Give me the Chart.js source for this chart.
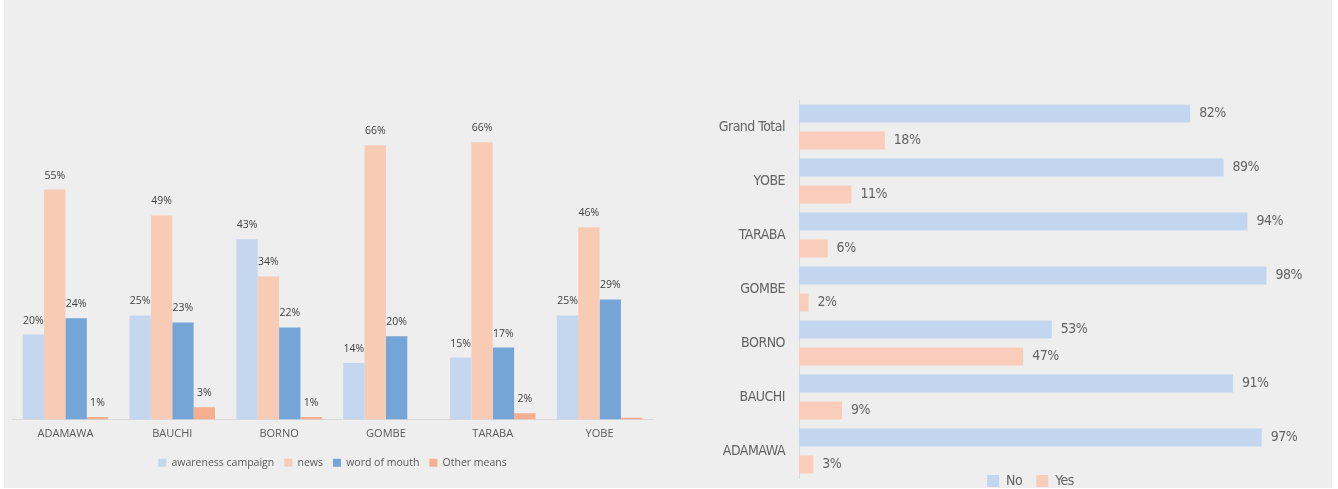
<!DOCTYPE html>
<html>
<head>
<meta charset="utf-8">
<script src="https://cdn.jsdelivr.net/npm/chart.js@4.4.0/dist/chart.umd.min.js"></script>
<style>
    html, body { margin: 0; padding: 0; background: #ffffff; overflow: hidden; }
    #wrap { position: relative; width: 1338px; height: 489px; overflow: hidden; }
    #panel { position: absolute; left: 4px; top: 0; width: 1328px; height: 488px; background: #eeeeee; }
    #meansChart { position: absolute; left: 0; top: 0; }
    #answerChart { position: absolute; left: 690px; top: 0; }
</style>
</head>
<body>
<div id="wrap">
    <div id="panel"></div>
    <canvas id="meansChart" width="670" height="488"></canvas>
    <canvas id="answerChart" width="642" height="516"></canvas>
</div>
<script>
// left chart - how people heard about it, by state (percent)
var regions = ["ADAMAWA", "BAUCHI", "BORNO", "GOMBE", "TARABA", "YOBE"];
var awareness = [20.3, 24.9, 43.1, 13.5, 14.8, 24.9];
var news = [55.0, 48.8, 34.2, 65.6, 66.3, 46.0];
var wordOfMouth = [24.2, 23.2, 22.0, 19.9, 17.2, 28.7];
var otherMeans = [0.6, 2.9, 0.6, 0, 1.5, 0.4];

// right chart - No / Yes share (percent)
var states = ["Grand Total", "YOBE", "TARABA", "GOMBE", "BORNO", "BAUCHI", "ADAMAWA"];
var noShare = [82, 89, 94, 98, 53, 91, 97];
var yesShare = [18, 11, 6, 2, 47, 9, 3];

var narrowFont = "'Liberation Sans Narrow', 'DejaVu Sans Condensed', sans-serif";

// writes the % value next to each bar
var valueLabels = {
    id: "valueLabels",
    afterDatasetsDraw: function(chart, args, opts) {
        var ctx = chart.ctx;
        ctx.save();
        ctx.font = opts.font;
        ctx.fillStyle = opts.color;
        chart.data.datasets.forEach(function(ds, i) {
            var meta = chart.getDatasetMeta(i);
            meta.data.forEach(function(bar, j) {
                var v = Math.round(ds.data[j]);
                if (v === 0) return;
                if (opts.horizontal) {
                    ctx.textAlign = "left";
                    ctx.textBaseline = "middle";
                    ctx.fillText(v + "%", bar.x + opts.offset, bar.y);
                } else {
                    ctx.textAlign = "center";
                    ctx.textBaseline = "middle";
                    ctx.fillText(v + "%", bar.x, bar.y - opts.offset);
                }
            });
        });
        ctx.restore();
    }
};

// nudge the legend box after layout
var legendShift = {
    id: "legendShift",
    afterLayout: function(chart, args, opts) {
        if (!chart.legend) return;
        chart.legend.top += opts.dy || 0;
        chart.legend.bottom += opts.dy || 0;
        chart.legend.left += opts.dx || 0;
        chart.legend.right += opts.dx || 0;
    }
};

// tighter letters (no narrow font installed)
var tightText = {
    id: "tightText",
    beforeLayout: function(chart, args, opts) {
        if (opts.spacing) chart.ctx.letterSpacing = opts.spacing;
    },
    beforeDraw: function(chart, args, opts) {
        if (opts.spacing) chart.ctx.letterSpacing = opts.spacing;
    }
};

var meansCtx = document.getElementById("meansChart").getContext("2d");
var meansChart = new Chart(meansCtx, {
    type: "bar",
    data: {
        labels: regions,
        datasets: [
            { label: "awareness campaign", data: awareness, backgroundColor: "#c4d7ef" },
            { label: "news", data: news, backgroundColor: "#f8cbb5" },
            { label: "word of mouth", data: wordOfMouth, backgroundColor: "#75a4d6" },
            { label: "Other means", data: otherMeans, backgroundColor: "#f6ae8f" }
        ]
    },
    options: {
        responsive: false,
        animation: false,
        devicePixelRatio: 1,
        layout: { padding: { left: 12, right: 17, top: 85, bottom: 10 } },
        datasets: { bar: { barPercentage: 1, categoryPercentage: 0.8 } },
        scales: {
            x: {
                grid: { display: false, drawTicks: false },
                border: { display: true, color: "#d9d9d9", width: 1 },
                ticks: { color: "#595959", padding: 8, font: { family: "'Open Sans', sans-serif", size: 11 } },
                afterFit: function(scale) { scale.height = 28; }
            },
            y: { display: false, min: 0, max: 80 }
        },
        plugins: {
            legend: {
                position: "bottom",
                labels: {
                    boxWidth: 8,
                    boxHeight: 8,
                    padding: 10,
                    color: "#595959",
                    font: { family: "'Open Sans', sans-serif", size: 10.5 }
                }
            },
            tooltip: { enabled: false },
            valueLabels: { font: "10.5px 'Open Sans', sans-serif", color: "#404040", offset: 14, horizontal: false },
            legendShift: { dx: 0, dy: 0 },
            tightText: { spacing: "" }
        }
    },
    plugins: [valueLabels, legendShift, tightText]
});

var answerCtx = document.getElementById("answerChart").getContext("2d");
var answerChart = new Chart(answerCtx, {
    type: "bar",
    data: {
        labels: states,
        datasets: [
            { label: "No", data: noShare, backgroundColor: "#c3d6ef" },
            { label: "Yes", data: yesShare, backgroundColor: "#f9cdb9" }
        ]
    },
    options: {
        indexAxis: "y",
        responsive: false,
        animation: false,
        devicePixelRatio: 1,
        layout: { padding: { left: 0, right: 56, top: 100, bottom: 0 } },
        datasets: { bar: { barPercentage: 0.667, categoryPercentage: 1 } },
        scales: {
            x: { display: false, min: 0, max: 100 },
            y: {
                grid: { display: false, drawTicks: false },
                border: { display: true, color: "#d9d9d9", width: 1 },
                ticks: { color: "#636363", padding: 14, font: { family: narrowFont, size: 14 } },
                afterFit: function(scale) { scale.width = 109; }
            }
        },
        plugins: {
            legend: {
                position: "bottom",
                fullSize: false,
                labels: {
                    boxWidth: 12,
                    boxHeight: 12,
                    padding: 14,
                    color: "#636363",
                    font: { family: narrowFont, size: 14 }
                }
            },
            tooltip: { enabled: false },
            valueLabels: { font: "14px " + narrowFont, color: "#636363", offset: 9, horizontal: true },
            legendShift: { dx: -7, dy: -18 },
            tightText: { spacing: "-0.5px" }
        }
    },
    plugins: [valueLabels, legendShift, tightText]
});
</script>
</body>
</html>
